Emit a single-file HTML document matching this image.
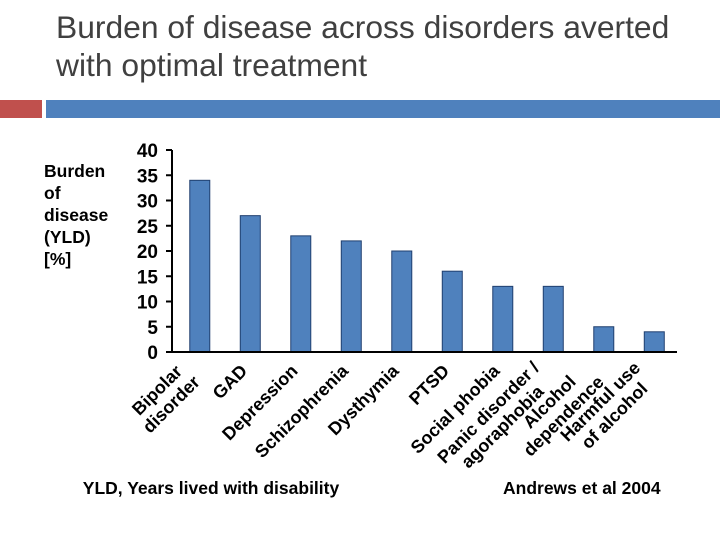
<!DOCTYPE html>
<html><head><meta charset="utf-8"><style>
body{margin:0;background:#fff;width:720px;height:540px;overflow:hidden;font-family:"Liberation Sans",Arial,sans-serif}
</style></head><body>
<svg width="720" height="540" xmlns="http://www.w3.org/2000/svg" font-family="Liberation Sans, Arial, sans-serif">
<text x="56" y="38" font-size="31.8" fill="#404040">Burden of disease across disorders averted</text>
<text x="56" y="76" font-size="31.8" fill="#404040">with optimal treatment</text>
<rect x="0" y="100" width="42" height="18" fill="#c0504d"/>
<rect x="46" y="100" width="674" height="18" fill="#4f81bd"/>
<g font-weight="bold" font-size="17.5" fill="#000">
<text x="44" y="177">Burden</text><text x="44" y="199">of</text><text x="44" y="221">disease</text><text x="44" y="243">(YLD)</text><text x="44" y="265">[%]</text>
</g>
<g id="chart"></g>
<text x="211" y="494" font-size="17.5" font-weight="bold" text-anchor="middle">YLD, Years lived with disability</text>
<text x="503" y="494" font-size="17.5" font-weight="bold">Andrews et al 2004</text>
</svg>
<script>
const categories=[["Bipolar","disorder"],["GAD"],["Depression"],["Schizophrenia"],["Dysthymia"],["PTSD"],["Social phobia"],["Panic disorder /","agoraphobia"],["Alcohol","dependence"],["Harmful use","of alcohol"]];
const values=[34,27,23,22,20,16,13,13,5,4];
const ticks=[0,5,10,15,20,25,30,35,40];
const NS="http://www.w3.org/2000/svg";
const g=document.getElementById('chart');
const x0=172,x1=677,yTop=150,yBot=352,yMax=40;
const y=v=>yBot-(v/yMax)*(yBot-yTop);
const step=(x1-x0)/categories.length;
const xc=i=>x0+step*(i+0.55);
function mk(t,a){const e=document.createElementNS(NS,t);for(const k in a)e.setAttribute(k,a[k]);g.appendChild(e);return e;}
values.forEach((v,i)=>{
 const r=mk('rect',{x:xc(i)-10,y:y(v),width:20,height:yBot-y(v),fill:'#4f81bd',stroke:'#1f3f6f','stroke-width':1});
 
 
});
const ax=mk('path',{d:`M${x0} ${yTop}V${yBot}H${x1}`,stroke:'#000','stroke-width':2,fill:'none'});


ticks.forEach(t=>{
 const l=mk('line',{x1:x0-6,x2:x0,y1:y(t),y2:y(t),stroke:'#000','stroke-width':2});
 
 
 const tx=mk('text',{x:158,y:y(t)+7,'font-size':19,'font-weight':'bold','text-anchor':'end'});
 tx.textContent=t;
 
 
});
categories.forEach((c,i)=>{
 const single=c.length===1;
 const px=single?xc(i)-2:xc(i)-13, py=single?372:369;
 const t=mk('text',{transform:`translate(${px},${py}) rotate(-45)`,'font-size':18,'font-weight':'bold','text-anchor':'end'});
 
 
 const spans=c.map((s,k)=>{const sp=document.createElementNS(NS,'tspan');sp.setAttribute('x',0);sp.setAttribute('y',k*20);sp.textContent=s;t.appendChild(sp);return sp;});
 if(!single){
  const ws=spans.map(s=>s.getComputedTextLength());
  const m=Math.max(...ws);
  spans.forEach((s,k)=>s.setAttribute('x',-(m-ws[k])/2));
 }
});
</script>
</body></html>
